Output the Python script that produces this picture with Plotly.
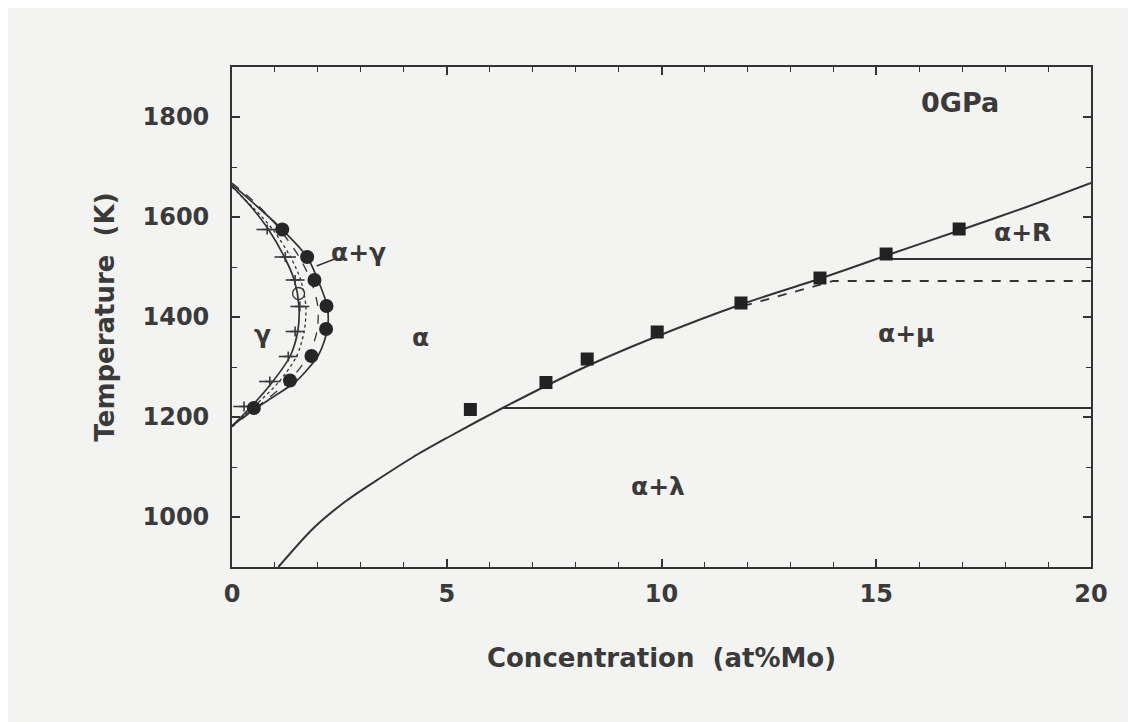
import plotly.graph_objects as go

# ---- data ----
# square markers: alpha / alpha+intermetallic boundary
sq_x = [5.55, 7.31, 8.27, 9.90, 11.85, 13.69, 15.23, 16.93]
sq_T = [1215, 1269, 1316, 1370, 1428, 1478, 1526, 1576]

# filled circles: (alpha+gamma)/alpha boundary
ci_x = [1.17, 1.75, 1.92, 2.20, 2.19, 1.85, 1.35, 0.51]
ci_T = [1575, 1520, 1474, 1422, 1376, 1322, 1273, 1218]

# small points with horizontal error bars: gamma/(alpha+gamma) boundary
eb_x = [0.82, 1.24, 1.47, 1.58, 1.47, 1.31, 0.88, 0.28]
eb_T = [1575, 1520, 1474, 1421, 1371, 1321, 1271, 1221]
eb_err = [0.25, 0.25, 0.22, 0.22, 0.22, 0.22, 0.25, 0.25]

# open circle
oc_x = [1.55]
oc_T = [1447]

# solvus curve alpha / alpha+lambda ... alpha+R
solv_x = [1.08, 1.90, 2.67, 3.45, 4.22, 5.00, 5.77, 6.30, 7.40, 8.40, 9.80, 11.85, 13.70, 15.20, 16.90, 18.50, 20.00]
solv_T = [900, 978, 1033, 1078, 1120, 1158, 1194, 1218, 1266, 1307, 1358, 1425, 1477, 1522, 1572, 1620, 1668]

# eutectoid-like horizontal lines
lam_x = [6.3, 20.0]
lam_T = [1218, 1218]
r_x = [15.3, 20.0]
r_T = [1516, 1516]
mu_x = [11.9, 13.2, 14.0, 20.0]
mu_T = [1422, 1452, 1472, 1472]

# gamma loop boundaries
outer_x = [0.0, 0.6, 1.17, 1.75, 2.02, 2.22, 2.22, 2.02, 1.50, 0.90, 0.35, 0.0]
outer_T = [1665, 1620, 1575, 1520, 1470, 1420, 1375, 1325, 1272, 1237, 1205, 1182]
inner_x = [0.0, 0.45, 0.85, 1.22, 1.45, 1.56, 1.53, 1.35, 0.95, 0.45, 0.0]
inner_T = [1662, 1620, 1575, 1520, 1474, 1421, 1371, 1321, 1271, 1221, 1182]
dash1_x = [0.0, 0.55, 1.05, 1.55, 1.85, 2.00, 1.98, 1.78, 1.32, 0.70, 0.0]
dash1_T = [1668, 1628, 1582, 1522, 1470, 1420, 1372, 1322, 1272, 1228, 1180]
dash2_x = [0.0, 0.50, 0.95, 1.35, 1.60, 1.72, 1.68, 1.50, 1.10, 0.55, 0.0]
dash2_T = [1660, 1618, 1575, 1522, 1474, 1421, 1371, 1321, 1271, 1224, 1182]

# region labels
lab_text = ["0GPa", "α+γ", "γ", "α", "α+R", "α+μ", "α+λ"]
lab_x = [16.95, 2.95, 0.70, 4.38, 18.40, 15.70, 9.92]
lab_T = [1830, 1530, 1366, 1360, 1570, 1368, 1062]
lab_size = [27, 25, 25, 25, 25, 25, 25]

x_ticks = [0, 5, 10, 15, 20]
y_ticks = [1000, 1200, 1400, 1600, 1800]

INK = "#3a3a3a"
LINE = "#333333"
BG = "#f3f3f1"
FONT = "DejaVu Sans"

fig = go.Figure()

def line(x, y, dash="solid", w=1.8, shape="spline"):
    fig.add_trace(go.Scatter(x=x, y=y, mode="lines",
                             line=dict(color=LINE, width=w, dash=dash, shape=shape, smoothing=0.8),
                             hoverinfo="skip", showlegend=False))

line(solv_x, solv_T, w=2.0)
line(lam_x, lam_T, w=2.0, shape="linear")
line(r_x, r_T, w=2.0, shape="linear")
line(mu_x, mu_T, dash="dash", w=1.8, shape="linear")
line(outer_x, outer_T, w=1.7)
line(inner_x, inner_T, w=1.7)
line(dash1_x, dash1_T, dash="dash", w=1.3)
line(dash2_x, dash2_T, dash="dot", w=1.3)

fig.add_trace(go.Scatter(x=eb_x, y=eb_T, mode="markers",
                         marker=dict(symbol="cross-thin", size=7, color=INK, line=dict(color=INK, width=1.6)),
                         error_x=dict(type="data", array=eb_err, visible=True, color=INK, thickness=1.6, width=0),
                         showlegend=False))
fig.add_trace(go.Scatter(x=oc_x, y=oc_T, mode="markers",
                         marker=dict(symbol="circle-open", size=12, color=INK, line=dict(color=INK, width=1.4)),
                         showlegend=False))
fig.add_trace(go.Scatter(x=ci_x, y=ci_T, mode="markers",
                         marker=dict(symbol="circle", size=14, color="#262626"),
                         showlegend=False))
fig.add_trace(go.Scatter(x=sq_x, y=sq_T, mode="markers",
                         marker=dict(symbol="square", size=13, color="#222222"),
                         showlegend=False))

# leader line for alpha+gamma label
fig.add_trace(go.Scatter(x=[1.97, 2.45], y=[1502, 1518], mode="lines",
                         line=dict(color=LINE, width=1.4), showlegend=False, hoverinfo="skip"))

for t, x, y, s in zip(lab_text, lab_x, lab_T, lab_size):
    fig.add_annotation(x=x, y=y, text=t, showarrow=False,
                       font=dict(family=FONT, size=s, color=INK, weight="bold"))

axis_common = dict(
    showline=True, linecolor=LINE, linewidth=1.8, mirror="allticks",
    ticks="inside", ticklen=8, tickwidth=1.5, tickcolor=LINE,
    showgrid=False, zeroline=False,
    tickfont=dict(family=FONT, size=24, color=INK, weight="bold"),
)

fig.update_xaxes(range=[0, 20], tickvals=x_ticks, ticktext=[str(v) for v in x_ticks],
                 minor=dict(dtick=1, ticks="inside", ticklen=5, tickcolor=LINE, tickwidth=1.2),
                 ticklabelstandoff=4,
                 title=dict(text="Concentration  (at%Mo)", standoff=42,
                            font=dict(family=FONT, size=26, color=INK, weight="bold")),
                 **axis_common)
fig.update_yaxes(range=[900, 1900], tickvals=y_ticks, ticktext=[str(v) for v in y_ticks],
                 minor=dict(dtick=100, ticks="inside", ticklen=5, tickcolor=LINE, tickwidth=1.2),
                 ticklabelstandoff=16,
                 title=dict(text="Temperature  (K)", standoff=20,
                            font=dict(family=FONT, size=26, color=INK, weight="bold")),
                 **axis_common)

fig.update_layout(width=1136, height=722,
                  margin=dict(l=224, r=53, t=59, b=163),
                  paper_bgcolor=BG, plot_bgcolor=BG,
                  showlegend=False)

fig.write_html("out.html")
